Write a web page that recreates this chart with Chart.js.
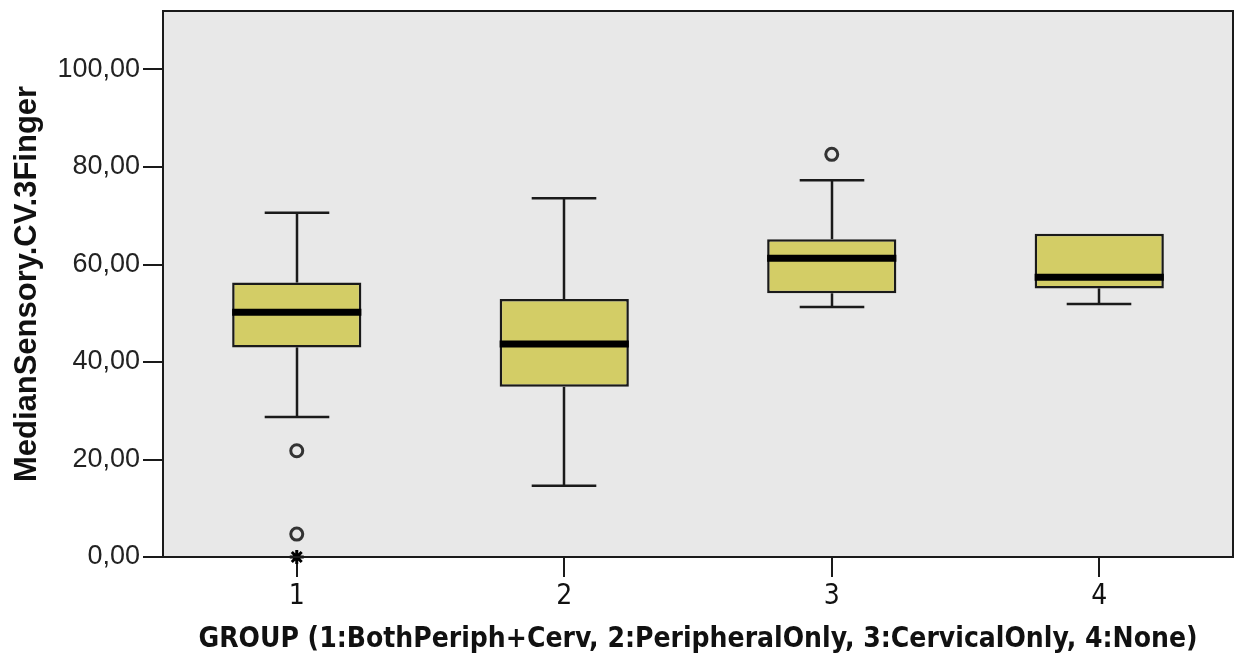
<!DOCTYPE html>
<html>
<head>
<meta charset="utf-8">
<script src="https://cdn.jsdelivr.net/npm/chart.js@4/dist/chart.umd.min.js"></script>
<style>
  html, body { margin: 0; padding: 0; background: #fff; }
  #wrap { width: 1244px; height: 657px; }
</style>
</head>
<body>
<div id="wrap"><canvas id="boxChart"></canvas></div>
<script>
// --- dados ---
const groups = ['1', '2', '3', '4'];
const whiskerLow = [28.7, 14.6, 51.3, 51.9];
const q1 = [43.0, 34.9, 54.1, 55.1];
const medians = [50.2, 43.7, 61.3, 57.4];
const q3 = [56.3, 52.9, 65.2, 66.3];
const whiskerHigh = [70.6, 73.6, 77.3, 66.3];
const outliers = [{ x: '1', y: 21.8 }, { x: '1', y: 4.7 }, { x: '3', y: 82.6 }];
const extremes = [{ x: '1', y: 0 }];
const yMax = 112;
const yStep = 20;

const plotBg = '#e8e8e8';
const boxFill = '#d3cd66';
const ink = '#1a1a1a';

// fundo cinza + moldura da área do gráfico
const frame = {
    id: 'frame',
    beforeDraw(chart) {
        const { ctx, chartArea: a } = chart;
        ctx.save();
        ctx.fillStyle = plotBg;
        ctx.fillRect(a.left, a.top, a.right - a.left, a.bottom - a.top);
        ctx.restore();
    },
    afterDraw(chart) {
        const { ctx, chartArea: a } = chart;
        ctx.save();
        ctx.strokeStyle = ink;
        ctx.lineWidth = 2;
        ctx.strokeRect(a.left, a.top, a.right - a.left, a.bottom - a.top);
        ctx.restore();
    }
};

// bigodes e medianas
const boxParts = {
    id: 'boxParts',
    beforeDatasetsDraw(chart) {
        const { ctx, scales: { y } } = chart;
        const bars = chart.getDatasetMeta(0).data;
        ctx.save();
        ctx.strokeStyle = ink;
        ctx.lineWidth = 2.5;
        bars.forEach((bar, i) => {
            const cx = Math.round(bar.x);
            const half = bar.width / 4;
            const segs = [[whiskerLow[i], q1[i]], [q3[i], whiskerHigh[i]]];
            segs.forEach(([a, b]) => {
                if (a === b) return;
                ctx.beginPath();
                ctx.moveTo(cx, y.getPixelForValue(a));
                ctx.lineTo(cx, y.getPixelForValue(b));
                ctx.stroke();
            });
            [whiskerLow[i], whiskerHigh[i]].forEach(v => {
                if (v === q1[i] || v === q3[i]) return;
                const py = y.getPixelForValue(v);
                ctx.beginPath();
                ctx.moveTo(cx - half, py);
                ctx.lineTo(cx + half, py);
                ctx.stroke();
            });
        });
        ctx.restore();
    },
    afterDatasetsDraw(chart) {
        const { ctx, scales: { y } } = chart;
        const bars = chart.getDatasetMeta(0).data;
        ctx.save();
        ctx.strokeStyle = '#000';
        ctx.lineWidth = 7;
        bars.forEach((bar, i) => {
            const py = y.getPixelForValue(medians[i]);
            ctx.beginPath();
            ctx.moveTo(bar.x - bar.width / 2, py);
            ctx.lineTo(bar.x + bar.width / 2, py);
            ctx.stroke();
        });
        ctx.restore();
    }
};

const ctx = document.getElementById('boxChart').getContext('2d');
new Chart(ctx, {
    type: 'bar',
    data: {
        labels: groups,
        datasets: [
            {
                label: 'box',
                data: groups.map((g, i) => [q1[i], q3[i]]),
                backgroundColor: boxFill,
                borderColor: ink,
                borderWidth: 2.5,
                borderSkipped: false,
                categoryPercentage: 1,
                barPercentage: 0.483,
                order: 2
            },
            {
                label: 'outliers',
                type: 'line',
                data: outliers,
                showLine: false,
                pointStyle: 'circle',
                pointRadius: 6,
                pointBorderWidth: 3,
                pointBackgroundColor: plotBg,
                pointBorderColor: '#333',
                order: 1
            },
            {
                label: 'extremes',
                type: 'line',
                data: extremes,
                showLine: false,
                pointStyle: 'star',
                pointRadius: 7,
                pointBorderWidth: 3,
                pointBorderColor: '#000',
                order: 0
            }
        ]
    },
    options: {
        responsive: true,
        maintainAspectRatio: false,
        animation: false,
        clip: false,
        layout: { padding: { top: 11, right: 11, left: 0, bottom: 0 } },
        plugins: { legend: { display: false }, tooltip: { enabled: false } },
        scales: {
            x: {
                offset: true,
                grid: { display: true, offset: false, drawOnChartArea: false, tickLength: 20, tickColor: ink, lineWidth: 2 },
                border: { display: false },
                ticks: { color: '#111', padding: 3, font: { family: "'Liberation Sans Narrow', 'DejaVu Sans Condensed', Arial, sans-serif", size: 28 } },
                title: {
                    display: true,
                    text: 'GROUP (1:BothPeriph+Cerv, 2:PeripheralOnly, 3:CervicalOnly, 4:None)',
                    color: '#111',
                    padding: { top: 0, bottom: 0 },
                    font: { family: "'Liberation Sans Narrow', 'DejaVu Sans Condensed', Arial, sans-serif", size: 28, weight: 'bold' }
                },
                afterFit(scale) { scale.height = 100; scale.paddingLeft = 0; scale.paddingRight = 0; }
            },
            y: {
                min: 0,
                max: yMax,
                grid: { display: true, drawOnChartArea: false, tickLength: 20, tickColor: ink, lineWidth: 2 },
                border: { display: false },
                ticks: {
                    stepSize: yStep,
                    includeBounds: false,
                    color: '#222',
                    padding: 3,
                    font: { family: "'Liberation Sans', Arial, sans-serif", size: 27 },
                    callback: v => v.toFixed(2).replace('.', ',')
                },
                title: {
                    display: true,
                    text: 'MedianSensory.CV.3Finger',
                    color: '#111',
                    padding: { top: 9, bottom: 0 },
                    font: { family: "'Liberation Sans', Arial, sans-serif", size: 31, weight: 'bold' }
                },
                afterFit(scale) { scale.width = 163; scale.paddingTop = 0; scale.paddingBottom = 0; }
            }
        }
    },
    plugins: [frame, boxParts]
});
</script>
</body>
</html>
